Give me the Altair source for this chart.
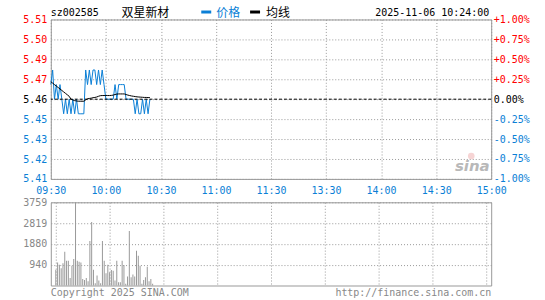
import altair as alt
import pandas as pd

BLUE = "#0b7fd6"
RED = "#ff0000"
GRAY = "#999999"
MONO = "DejaVu Sans Mono"
CJK = "Noto Sans CJK SC"

# ---------------- data ----------------
minute = list(range(55))  # 09:30 .. 10:24
price = [5.47, 5.48, 5.46, 5.47, 5.46, 5.47, 5.46, 5.45, 5.46, 5.45,
         5.46, 5.45, 5.46, 5.45, 5.46, 5.45, 5.45, 5.45, 5.45, 5.48,
         5.47, 5.48, 5.47, 5.48, 5.48, 5.47, 5.48, 5.47, 5.48, 5.47,
         5.46, 5.46, 5.46, 5.46, 5.46, 5.47, 5.46, 5.47, 5.47, 5.47,
         5.47, 5.46, 5.46, 5.46, 5.46, 5.46, 5.45, 5.46, 5.45, 5.45,
         5.46, 5.45, 5.46, 5.45, 5.46]
avg = [5.472, 5.471, 5.470, 5.469, 5.468, 5.467, 5.466, 5.465, 5.464, 5.463,
       5.462, 5.460, 5.4595, 5.459, 5.4588, 5.4586, 5.4586, 5.4586, 5.4586, 5.4595,
       5.4603, 5.4605, 5.4607, 5.461, 5.4612, 5.4615, 5.462, 5.4624, 5.4625, 5.4625,
       5.4625, 5.4625, 5.4625, 5.4626, 5.4628, 5.4632, 5.4635, 5.4636, 5.4636, 5.4636,
       5.4636, 5.4632, 5.4628, 5.4625, 5.4622, 5.462, 5.4618, 5.4616, 5.4615, 5.4614,
       5.4613, 5.4612, 5.4612, 5.4611, 5.4611]
volume = [716, 1044, 940, 776, 1000, 1521, 1119, 1119, 343, 895,
          1193, 3759, 1119, 1074, 1044, 298, 254, 343, 194, 2014,
          2864, 716, 104, 448, 224, 104, 2014, 1119, 552, 940,
          597, 701, 671, 224, 1119, 149, 149, 1119, 925, 75,
          403, 2461, 373, 492, 403, 1566, 1342, 895, 75, 254,
          373, 850, 194, 298, 75]

prev_close = 5.46
price_ticks = [5.4054, 5.4190, 5.4327, 5.4463, 5.46, 5.4737, 5.4873, 5.5010, 5.5146]
pct_ticks = [-1.0, -0.75, -0.5, -0.25, 0.0, 0.25, 0.5, 0.75, 1.0]
time_ticks = [0, 30, 60, 90, 120, 150, 180, 210, 240]
time_labels = ["09:30", "10:00", "10:30", "11:00", "11:30", "13:30", "14:00", "14:30", "15:00"]
vol_ticks = [940, 1880, 2819, 3759]

code = "sz002585"
name = "双星新材"
legend_price = "价格"
legend_avg = "均线"
stamp = "2025-11-06 10:24:00"
copyright_text = "Copyright 2025 SINA.COM"
url_text = "http://finance.sina.com.cn"

df = pd.DataFrame({"minute": minute, "price": price, "avg": avg, "volume": volume})
one = pd.DataFrame({"k": [0]})

W, H1, H2 = 442, 160, 83.5
LEFT, TOP = 50, 18

label_expr = "[" + ",".join(f"'{t}'" for t in time_labels) + "][round(datum.value/30)]"
x_scale = alt.Scale(domain=[0, 240], nice=False, zero=False)

x_axis = alt.Axis(values=time_ticks, labelExpr=label_expr, grid=True, gridColor=GRAY,
                  gridDash=[1, 2], labelColor=BLUE, labelFont=MONO, labelFontSize=10,
                  labelPadding=7, ticks=False, domain=False, title=None,
                  labelFlush=False, labelOverlap=False)

y_price_scale = alt.Scale(domain=[price_ticks[0], price_ticks[-1]], nice=False, zero=False)
y_price_axis = alt.Axis(values=price_ticks, format=".2f", grid=True, gridColor=GRAY,
                        gridDash=[1, 2], ticks=False, domain=False, title=None,
                        labelFont=MONO, labelFontSize=10, labelPadding=4,
                        labelFlush=False, labelOverlap=False,
                        labelColor=alt.ExprRef(
                            f"datum.value > {prev_close + 0.001} ? '{RED}' : "
                            f"(datum.value < {prev_close - 0.001} ? '{BLUE}' : '#000000')"))

price_line = alt.Chart(df).mark_line(color=BLUE, strokeWidth=1).encode(
    x=alt.X("minute:Q", scale=x_scale, axis=x_axis),
    y=alt.Y("price:Q", scale=y_price_scale, axis=y_price_axis),
)
avg_line = alt.Chart(df).mark_line(color="black", strokeWidth=1).encode(
    x=alt.X("minute:Q", scale=x_scale, axis=x_axis),
    y=alt.Y("avg:Q", scale=y_price_scale, axis=y_price_axis),
)

pct_df = pd.DataFrame({"pct": [0.0]})
zero_rule = alt.Chart(pct_df).mark_rule(color="black", strokeDash=[3, 2], strokeWidth=1).encode(
    y=alt.Y(
        "pct:Q", scale=alt.Scale(domain=[-1, 1], nice=False),
        axis=alt.Axis(orient="right", values=pct_ticks, grid=False, ticks=False, domain=False,
                      title=None, labelFont=MONO, labelFontSize=10, labelPadding=2,
                      labelFlush=False, labelOverlap=False,
                      labelExpr="(datum.value > 0 ? '+' : (datum.value < 0 ? '-' : '')) + format(abs(datum.value), '.2f') + '%'",
                      labelColor=alt.ExprRef(
                          f"datum.value > 0.001 ? '{RED}' : (datum.value < -0.001 ? '{BLUE}' : '#000000')")),
    )
)


def txt(s, x, y, color="black", font=MONO, size=10, align="left", **kw):
    return alt.Chart(one).mark_text(align=align, baseline="middle", font=font, fontSize=size,
                                    color=color, **kw).encode(
        x=alt.value(x), y=alt.value(y), text=alt.value(s))


def dash(x1, x2, y, color):
    return alt.Chart(one).mark_rule(color=color, strokeWidth=3).encode(
        x=alt.value(x1), x2=alt.value(x2), y=alt.value(y))


def anchor(x, y):
    # invisible 1px box that pins the canvas extent
    return alt.Chart(one).mark_rect(opacity=0).encode(
        x=alt.value(x), x2=alt.value(x + 1), y=alt.value(y), y2=alt.value(y + 1))


header = [
    txt(code, 0, -6),
    txt(name, 71, -6, font=CJK, size=12),
    dash(151, 161, -7.5, BLUE),
    txt(legend_price, 166, -6, color=BLUE, font=CJK, size=12),
    dash(200, 210, -7.5, "black"),
    txt(legend_avg, 216, -6, font=CJK, size=12),
    txt(stamp, 440, -6, align="right"),
]

logo_eye = alt.Chart(one).mark_point(shape="circle", filled=True, color="#f2c2c2", size=45).encode(
    x=alt.value(422), y=alt.value(137))
logo = txt("sina", 423, 147, color="#b8b8b8", font="DejaVu Sans", size=15, align="center",
           fontStyle="italic", fontWeight="bold")

price_panel = alt.layer(
    alt.layer(price_line, avg_line),
    zero_rule,
    logo_eye, logo,
    *header,
    anchor(-LEFT, -TOP),
).resolve_scale(y="independent").properties(width=W, height=H1)

vol_bars = alt.Chart(df).mark_bar(color="#999999", size=1).encode(
    x=alt.X("minute:Q", scale=x_scale,
            axis=alt.Axis(values=time_ticks, labels=False, grid=True, gridColor=GRAY,
                          gridDash=[1, 2], ticks=False, domain=False, title=None)),
    y=alt.Y("volume:Q", scale=alt.Scale(domain=[0, vol_ticks[-1]], nice=False),
            axis=alt.Axis(values=vol_ticks, format="d", grid=True, gridColor=GRAY,
                          gridDash=[1, 2], ticks=False, domain=False, title=None,
                          labelFont=MONO, labelFontSize=10, labelPadding=4,
                          labelColor="#888888", labelFlush=False, labelOverlap=False)),
)

SPACING = 23.5
vol_bottom = 300 - TOP - H1 - SPACING  # canvas bottom in volume-panel coords

vol_panel = alt.layer(
    vol_bars,
    txt(copyright_text, 0, 91.5, color="#888888"),
    txt(url_text, 442, 91.5, color="#888888", align="right"),
    anchor(545 - LEFT - 1, vol_bottom - 1),
).properties(width=W, height=H2)

chart = alt.vconcat(price_panel, vol_panel, spacing=SPACING, bounds="flush").properties(
    padding=0,
    background="white",
).configure_view(stroke=GRAY, strokeWidth=1)

chart.save("out.html", embed_options={"renderer": "svg", "actions": False})
